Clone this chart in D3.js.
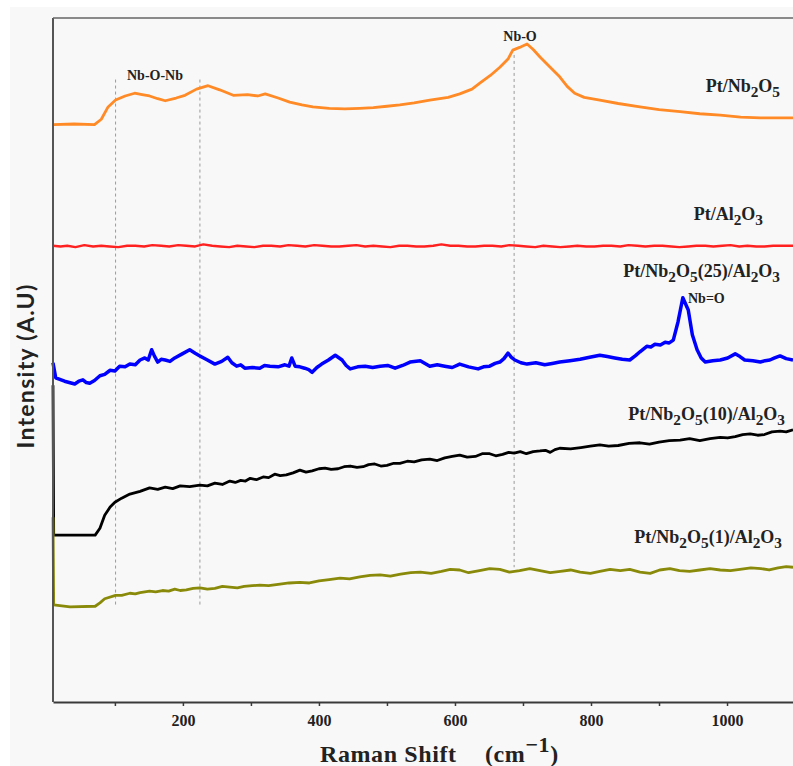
<!DOCTYPE html>
<html>
<head>
<meta charset="utf-8">
<script src="https://cdn.jsdelivr.net/npm/d3@7"></script>
<style>
  body { margin: 0; background: #fff; }
</style>
</head>
<body>
<script>
'use strict';

// Raman shift (cm-1), intensity (A.U.)
const ptNb2O5 = [[9,84.4],[40,84.5],[70,84.4],[80,85.2],[90,87.0],[101,88.0],[115,88.6],[129,89.0],[140,88.8],[151,88.6],[163,88.2],[174,87.9],[190,88.3],[203,88.7],[220,89.6],[237,90.1],[254,89.5],[274,88.7],[295,88.8],[310,88.6],[321,88.9],[340,88.3],[357,87.7],[375,87.3],[391,87.0],[415,86.8],[438,86.7],[460,86.8],[480,86.9],[500,87.1],[519,87.3],[540,87.6],[563,88.0],[590,88.4],[607,88.9],[625,89.6],[637,90.5],[652,91.6],[666,92.8],[678,94.0],[685,95.3],[695,95.7],[706,96.2],[715,95.4],[725,94.3],[740,92.8],[754,91.4],[765,90.0],[776,89.0],[790,88.4],[813,88.0],[840,87.5],[872,87.0],[900,86.6],[931,86.3],[960,86.0],[990,85.8],[1020,85.5],[1049,85.4],[1097,85.4]];

const ptAl2O3 = [[9,66.7],[20,66.6],[30,66.7],[42,66.5],[55,66.8],[68,66.6],[80,66.7],[92,66.6],[105,66.5],[118,66.7],[130,66.7],[143,66.6],[155,66.8],[168,66.7],[180,66.6],[193,66.8],[205,66.7],[218,66.6],[230,66.9],[243,66.7],[255,66.6],[268,66.5],[280,66.7],[293,66.6],[305,66.5],[318,66.7],[330,66.7],[343,66.6],[355,66.8],[368,66.7],[380,66.6],[393,66.8],[405,66.7],[418,66.6],[430,66.6],[443,66.7],[455,66.8],[468,66.6],[480,66.7],[493,66.6],[505,66.5],[518,66.7],[530,66.7],[543,66.6],[555,66.6],[568,66.7],[580,66.9],[593,66.7],[605,66.7],[618,66.6],[630,66.6],[643,66.7],[655,66.7],[668,66.6],[680,66.8],[693,66.7],[705,66.6],[718,66.5],[730,66.7],[743,66.6],[755,66.5],[768,66.6],[780,66.7],[793,66.6],[805,66.6],[818,66.7],[830,66.7],[843,66.6],[855,66.8],[868,66.7],[880,66.6],[893,66.7],[905,66.7],[918,66.6],[930,66.5],[943,66.6],[955,66.7],[968,66.7],[980,66.6],[993,66.7],[1005,66.8],[1018,66.6],[1030,66.7],[1043,66.6],[1055,66.6],[1068,66.7],[1080,66.7],[1097,66.7]];

const ptNb25 = [[9,49.6],[13,47.4],[26,46.9],[41,46.5],[47,46.9],[53,47.1],[58,46.7],[63,46.6],[70,47.0],[78,47.7],[85,47.9],[93,48.5],[100,48.4],[107,49.1],[115,49.0],[122,49.4],[130,49.3],[137,50.0],[144,50.3],[149,50.0],[154,51.5],[158,50.6],[163,49.7],[168,50.1],[174,50.0],[181,49.8],[188,50.3],[199,50.9],[210,51.5],[218,51.0],[225,50.6],[236,50.0],[247,49.4],[257,49.8],[266,50.4],[272,49.6],[279,49.1],[285,49.3],[291,48.8],[302,48.9],[313,48.8],[320,49.2],[328,49.1],[340,49.0],[350,49.3],[356,49.1],[360,50.3],[365,49.1],[372,49.0],[379,48.8],[385,48.6],[390,48.2],[397,48.9],[404,49.4],[414,50.0],[424,50.7],[434,50.0],[440,49.2],[446,48.7],[457,49.0],[468,49.1],[479,48.9],[490,49.1],[501,49.2],[512,48.8],[523,49.2],[534,49.7],[549,49.9],[556,49.5],[563,49.1],[574,49.3],[585,49.1],[596,48.9],[607,49.4],[620,49.0],[634,48.7],[642,49.0],[651,49.1],[659,49.5],[666,49.7],[672,50.2],[678,51.0],[683,50.4],[688,50.0],[697,49.6],[706,49.4],[719,49.6],[732,49.3],[743,49.5],[754,49.7],[769,49.9],[784,50.1],[798,50.4],[813,50.7],[824,50.5],[835,50.3],[846,50.1],[857,50.0],[865,50.6],[872,51.2],[882,52.0],[888,51.9],[894,52.3],[902,52.2],[909,52.6],[915,52.5],[921,52.9],[928,55.6],[935,59.1],[943,57.3],[949,53.7],[956,51.5],[962,50.3],[968,49.7],[979,49.9],[990,50.0],[1001,50.3],[1012,50.9],[1019,50.5],[1026,50.0],[1038,49.9],[1049,49.7],[1056,49.9],[1063,50.0],[1070,50.3],[1078,50.6],[1087,50.2],[1097,50.0]];

const ptNb10 = [[9,46.3],[10,24.4],[34,24.4],[71,24.4],[78,25.4],[85,27.3],[93,28.5],[100,29.2],[110,29.8],[122,30.4],[137,30.8],[151,31.3],[163,31.1],[174,31.4],[185,31.2],[196,31.6],[210,31.5],[225,31.7],[236,31.6],[247,32.0],[258,31.8],[269,32.3],[277,32.1],[285,32.4],[292,32.3],[299,32.7],[308,32.5],[318,32.9],[326,32.8],[335,33.3],[343,33.1],[352,33.2],[362,33.5],[372,33.9],[381,33.6],[390,33.8],[400,34.1],[409,34.2],[418,34.0],[428,34.1],[437,34.4],[446,34.5],[456,34.3],[465,34.4],[473,34.7],[482,34.8],[491,34.5],[500,34.6],[510,34.9],[519,34.9],[530,35.2],[540,35.1],[551,35.4],[563,35.5],[574,35.3],[585,35.7],[596,35.9],[607,36.1],[618,35.8],[630,35.9],[640,36.3],[651,36.3],[660,36.0],[670,36.2],[679,36.5],[687,36.4],[696,36.6],[705,36.3],[715,36.6],[725,36.7],[733,36.8],[740,36.5],[747,36.9],[754,37.1],[770,37.0],[785,37.2],[799,37.4],[813,37.6],[826,37.4],[840,37.5],[856,37.8],[872,37.9],[886,37.7],[900,38.0],[915,38.2],[931,38.3],[945,38.5],[960,38.2],[975,38.5],[990,38.7],[1001,38.6],[1012,38.8],[1023,39.1],[1034,39.2],[1045,39.0],[1055,39.1],[1066,39.5],[1078,39.6],[1087,39.5],[1097,39.8]];

const ptNb1 = [[9,27.0],[10,14.2],[34,13.9],[71,14.0],[78,14.5],[85,15.1],[101,15.6],[110,15.6],[122,15.9],[130,15.8],[137,16.0],[144,16.1],[151,16.2],[160,16.1],[170,16.3],[179,16.2],[188,16.5],[196,16.3],[205,16.4],[215,16.6],[225,16.7],[236,16.5],[247,16.6],[258,16.9],[269,16.8],[280,16.7],[290,16.9],[302,17.0],[313,17.1],[326,17.0],[340,17.2],[356,17.4],[372,17.5],[386,17.4],[400,17.7],[415,17.9],[431,18.1],[445,18.0],[460,18.3],[475,18.5],[490,18.6],[505,18.4],[520,18.7],[535,18.9],[549,19.0],[565,18.8],[580,19.1],[593,19.4],[607,19.3],[620,18.9],[636,19.2],[651,19.5],[666,19.4],[680,19.0],[695,19.2],[710,19.5],[725,19.2],[740,18.9],[755,19.1],[770,19.3],[784,19.0],[799,18.8],[813,19.1],[828,19.4],[843,19.2],[857,19.4],[872,19.0],[887,18.8],[901,19.3],[916,19.5],[930,19.2],[945,19.1],[960,19.3],[975,19.5],[990,19.3],[1005,19.2],[1019,19.4],[1035,19.6],[1050,19.5],[1062,19.3],[1075,19.6],[1087,19.8],[1097,19.7]];

const seriesData = [ptNb2O5, ptAl2O3, ptNb25, ptNb10, ptNb1];
const seriesNames = ['Pt/Nb_2O_5', 'Pt/Al_2O_3', 'Pt/Nb_2O_5(25)/Al_2O_3', 'Pt/Nb_2O_5(10)/Al_2O_3', 'Pt/Nb_2O_5(1)/Al_2O_3'];
const seriesColors = ['#ff8a26', '#ff2020', '#0000ff', '#000000', '#8a8a0a'];

// band markers (cm-1)
const bandNames = ['Nb-O-Nb', 'Nb-O', 'Nb=O'];
const bandLines = [101, 225, 687];

const xTicks = [100, 200, 300, 400, 500, 600, 700, 800, 900, 1000];
const xLabeled = [200, 400, 600, 800, 1000];

const width = 793, height = 766;
const margin = {top: 18, right: 0, bottom: 64, left: 53};

const svg = d3.select('body').append('svg')
  .attr('width', width)
  .attr('height', height);

// light grey figure background
svg.append('rect')
  .attr('x', 10).attr('y', 7)
  .attr('width', width - 10).attr('height', height - 7)
  .attr('fill', '#f8f8f8');

const x = d3.scaleLinear().domain([9, 1097]).range([margin.left, width - margin.right]);
const y = d3.scaleLinear().domain([0, 100]).range([height - margin.bottom, margin.top]);

const serif = 'Liberation Serif, Times New Roman, serif';

// dashed band guides
const guides = [
  {x: bandLines[0], top: 91.0, bottom: 13.9},
  {x: bandLines[1], top: 91.0, bottom: 13.9},
  {x: bandLines[2], top: 94.6, bottom: 19.7}
];
svg.selectAll('.guide')
  .data(guides)
  .enter().append('line')
  .attr('class', 'guide')
  .attr('x1', d => x(d.x)).attr('x2', d => x(d.x))
  .attr('y1', d => y(d.top)).attr('y2', d => y(d.bottom))
  .attr('stroke', '#9a9a9a')
  .attr('stroke-width', 1)
  .style('stroke-dasharray', '3,3');

// spectra
const line = d3.line()
  .x(d => x(d[0]))
  .y(d => y(d[1]));

svg.selectAll('.spectrum')
  .data(seriesData)
  .enter().append('path')
  .attr('class', 'spectrum')
  .attr('d', line)
  .attr('fill', 'none')
  .attr('stroke', (d, i) => seriesColors[i])
  .attr('stroke-width', (d, i) => i == 2 ? 3.5 : (i == 1 ? 2.4 : 2.8))
  .attr('stroke-linejoin', 'round');

// axes
const xAxis = svg.append('g')
  .attr('transform', 'translate(0,' + (height - margin.bottom) + ')')
  .call(d3.axisBottom(x)
    .tickValues(xTicks)
    .tickSize(4)
    .tickSizeOuter(0)
    .tickFormat(d => xLabeled.includes(d) ? d : ''));
xAxis.select('.domain').attr('stroke', '#3a3a3a').attr('stroke-width', 2);
xAxis.selectAll('.tick line').attr('stroke', '#3a3a3a').attr('stroke-width', 1.5);
xAxis.selectAll('.tick text')
  .attr('font-family', serif)
  .attr('font-size', '16px')
  .attr('font-weight', 'bold')
  .attr('fill', '#222')
  .attr('dy', '1.05em');

svg.append('line')
  .attr('x1', x(9)).attr('x2', x(9))
  .attr('y1', margin.top).attr('y2', height - margin.bottom)
  .attr('stroke', '#555')
  .attr('stroke-width', 2);

// top frame
svg.append('line')
  .attr('x1', x(9)).attr('x2', width)
  .attr('y1', margin.top).attr('y2', margin.top)
  .attr('stroke', '#666')
  .attr('stroke-width', 1.5);

// labels with subscripts
function addLabel(str, px, py, size, anchor) {
  const t = svg.append('text')
    .attr('x', px).attr('y', py)
    .attr('font-family', serif)
    .attr('font-size', size + 'px')
    .attr('font-weight', 'bold')
    .attr('fill', '#222')
    .style('text-anchor', anchor);
  const parts = str.split(/(_\d)/).filter(s => s.length);
  parts.forEach(p => {
    if (p[0] == '_') {
      t.append('tspan').attr('dy', size * 0.3).attr('font-size', (size * 0.85) + 'px').text(p.slice(1));
      t.append('tspan').attr('dy', -size * 0.3).text('\u200b');
    } else {
      t.append('tspan').text(p);
    }
  });
  return t;
}

const labelPos = [[780, 92], [763, 220], [780, 277], [785, 420], [782, 543]];
seriesNames.forEach((n, i) => addLabel(n, labelPos[i][0], labelPos[i][1], 18, 'end'));

addLabel(bandNames[0], 127, 80, 14, 'start');
addLabel(bandNames[1], 520, 41, 14, 'middle');
addLabel(bandNames[2], 688, 303, 14, 'start');

// axis titles
svg.append('text')
  .attr('transform', 'rotate(-90)')
  .attr('x', -366)
  .attr('y', 34)
  .attr('font-family', 'Lato, Open Sans, sans-serif')
  .attr('font-size', '23px')
  .attr('font-weight', 'bold')
  .attr('letter-spacing', '1.3px')
  .attr('fill', '#222')
  .style('text-anchor', 'middle')
  .text('Intensity (A.U)');

const xt = svg.append('text')
  .attr('y', 762)
  .attr('font-family', serif)
  .attr('font-size', '24px')
  .attr('font-weight', 'bold')
  .attr('letter-spacing', '0.6px')
  .attr('fill', '#222');
xt.append('tspan').attr('x', 320).text('Raman Shift');
xt.append('tspan').attr('x', 485).text('(cm');
xt.append('tspan').attr('dy', -10).attr('font-size', '22px').text('\u22121');
xt.append('tspan').attr('dy', 10).text(')');
</script>
</body>
</html>
